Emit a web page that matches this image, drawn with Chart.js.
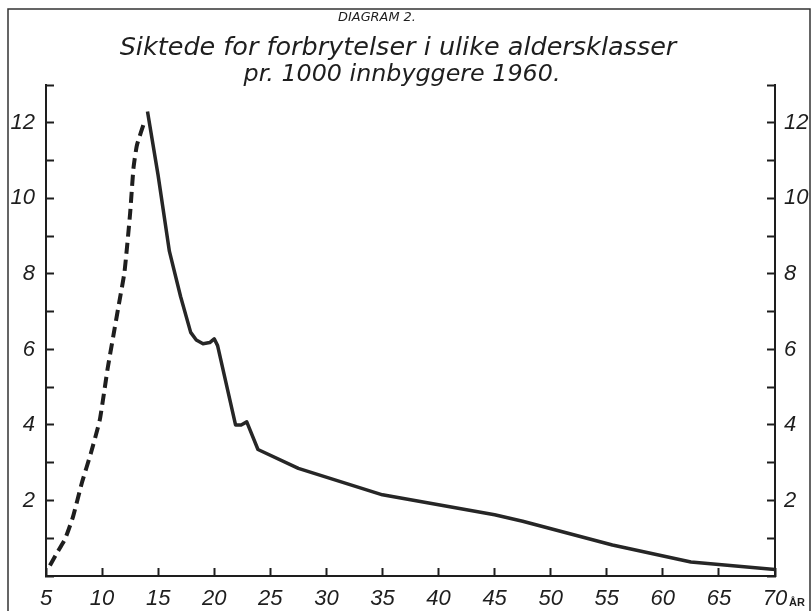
<!DOCTYPE html>
<html>
<head>
<meta charset="utf-8">
<title>Diagram 2</title>
<script src="https://cdn.jsdelivr.net/npm/chart.js@4"></script>
<style>
  html, body { margin: 0; padding: 0; background: #fff; }
  canvas { display: block; }
</style>
</head>
<body>
<canvas id="chart" width="812" height="611"></canvas>
<script>
"use strict";
const ctx = document.getElementById('chart');

// dashed part (under 14 år)
const dashedAges   = [5.35, 6, 6.7, 7.4, 8.2, 9, 9.8, 10.5, 11, 11.5, 12, 12.5, 12.8, 13.1, 13.8];
const dashedValues = [0.28, 0.62, 0.98, 1.56, 2.47, 3.25, 4.14, 5.5, 6.35, 7.2, 8.05, 9.6, 10.8, 11.4, 12.05];
// solid part
const solidAges   = [14.05, 15, 16, 17, 17.9, 18.4, 19, 19.6, 20, 20.3, 21.9, 22.4, 22.9, 23.9, 27.5, 35, 37.5, 45, 47.5, 55.5, 62.5, 70];
const solidValues = [12.3, 10.6, 8.6, 7.4, 6.45, 6.25, 6.15, 6.18, 6.28, 6.1, 4.0, 4.0, 4.08, 3.35, 2.85, 2.15, 2.02, 1.62, 1.45, 0.82, 0.37, 0.17];

const xTickValues = [5, 10, 15, 20, 25, 30, 35, 40, 45, 50, 55, 60, 65, 70];
const yTickValues = [0, 1, 2, 3, 4, 5, 6, 7, 8, 9, 10, 11, 12, 13];
const yLabelValues = [2, 4, 6, 8, 10, 12];

const titleSmall = 'DIAGRAM 2.';
const titleLines = ['Siktede for forbrytelser i ulike aldersklasser', 'pr. 1000 innbyggere 1960.'];
const unitLabel = 'ÅR';

const ink = '#1e1e1e';
const font = '"Liberation Sans", Arial, sans-serif';
const titleFont = '"DejaVu Sans", "Liberation Sans", sans-serif';

function toPoints(xs, ys) {
  return xs.map((x, i) => ({ x: x, y: ys[i] }));
}

function setTicks(values) {
  return function (scale) {
    scale.ticks = values.map(v => ({ value: v }));
  };
}

const yLabel = function (value) {
  return yLabelValues.includes(value) ? String(value) : '';
};

const axisGrid = {
  drawOnChartArea: false,
  drawTicks: true,
  tickLength: -8,
  tickWidth: 2,
  tickColor: ink
};

// write text centred at cx, sized so it spans about width px
function fitText(c, text, cx, cy, width, maxSize) {
  let size = maxSize;
  c.font = 'italic 200 ' + size + 'px ' + titleFont;
  const w = c.measureText(text).width;
  if (w > 0) size = Math.min(maxSize, size * width / w);
  c.font = 'italic 200 ' + size.toFixed(1) + 'px ' + titleFont;
  c.fillText(text, cx, cy);
}

// frame, headings and unit
const decorations = {
  id: 'decorations',
  afterDraw(chart) {
    const c = chart.ctx;
    c.save();
    c.strokeStyle = '#333';
    c.lineWidth = 1.5;
    c.beginPath();
    c.moveTo(8, 611);
    c.lineTo(8, 9);
    c.lineTo(810, 9);
    c.lineTo(810, 611);
    c.stroke();

    c.fillStyle = ink;
    c.textAlign = 'center';
    c.textBaseline = 'middle';
    fitText(c, titleSmall, 377, 18, 78, 14);
    fitText(c, titleLines[0], 398, 48, 556, 28);
    fitText(c, titleLines[1], 402, 75, 317, 28);

    c.textAlign = 'left';
    c.textBaseline = 'alphabetic';
    c.font = 'bold 11px ' + font;
    c.fillText(unitLabel, 789, 606);
    c.restore();
  }
};

let myChart = new Chart(ctx, {
  type: 'line',
  plugins: [decorations],
  data: {
    datasets: [{
      label: 'under 14',
      data: toPoints(dashedAges, dashedValues),
      borderColor: ink,
      borderWidth: 4,
      borderDash: [11, 6],
      pointRadius: 0,
      tension: 0.15,
      fill: false
    },
    {
      label: 'siktede',
      data: toPoints(solidAges, solidValues),
      borderColor: '#262626',
      borderWidth: 3.5,
      borderJoinStyle: 'round',
      pointRadius: 0,
      tension: 0,
      fill: false
    }]
  },
  options: {
    responsive: false,
    animation: false,
    layout: { padding: { top: 85, left: 0, right: 0, bottom: 0 } },
    plugins: {
      legend: { display: false },
      tooltip: { enabled: false }
    },
    scales: {
      x: {
        type: 'linear',
        min: 5,
        max: 70,
        afterBuildTicks: setTicks(xTickValues),
        afterFit(scale) { scale.height = 35; },
        grid: axisGrid,
        border: { display: true, color: ink, width: 2 },
        ticks: {
          color: ink,
          padding: 18,
          maxRotation: 0,
          autoSkip: false,
          font: { family: font, size: 22, style: 'italic' }
        }
      },
      y: {
        position: 'left',
        min: 0,
        max: 13,
        afterBuildTicks: setTicks(yTickValues),
        afterFit(scale) { scale.width = 46; },
        grid: axisGrid,
        border: { display: true, color: ink, width: 2 },
        ticks: {
          color: ink,
          padding: 19,
          autoSkip: false,
          callback: yLabel,
          font: { family: font, size: 22, style: 'italic' }
        }
      },
      y2: {
        position: 'right',
        min: 0,
        max: 13,
        afterBuildTicks: setTicks(yTickValues),
        afterFit(scale) { scale.width = 37; },
        grid: axisGrid,
        border: { display: true, color: ink, width: 2 },
        ticks: {
          color: ink,
          padding: 17,
          autoSkip: false,
          callback: yLabel,
          font: { family: font, size: 22, style: 'italic' }
        }
      }
    }
  }
});
</script>
</body>
</html>
